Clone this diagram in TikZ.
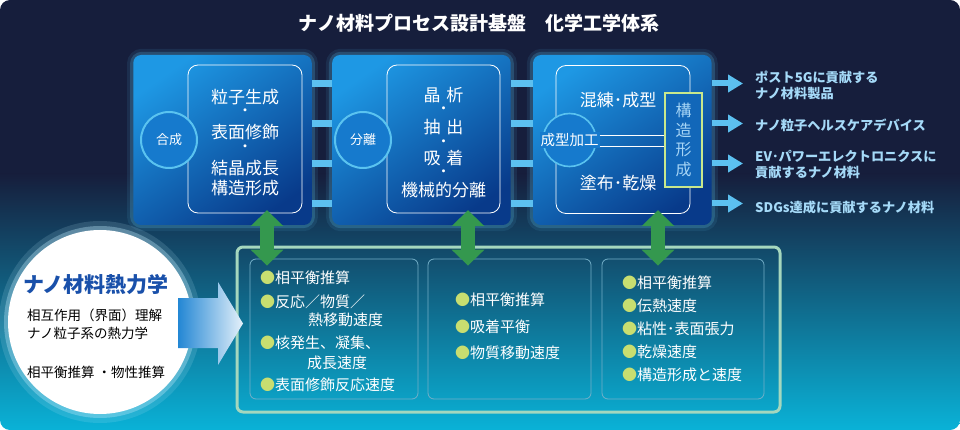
\documentclass[tikz,border=0pt]{standalone}
\usepackage{fontspec}
\setmainfont{Noto Sans CJK JP}
\usetikzlibrary{
  arrows.meta,
  backgrounds,
  calc,
  positioning
}
\definecolor{navy}{RGB}{22,30,60}
\definecolor{deepteal}{RGB}{8,82,122}
\definecolor{brightcyan}{RGB}{10,178,215}
\definecolor{boxlight}{RGB}{30,152,228}
\definecolor{boxdark}{RGB}{8,58,138}
\definecolor{boxmid}{RGB}{22,122,205}
\definecolor{barblue}{RGB}{92,192,240}
\definecolor{ringcyan}{RGB}{90,195,240}
\definecolor{outtext}{RGB}{165,218,248}
\definecolor{framegreen}{RGB}{165,215,190}
\definecolor{innerline}{RGB}{115,175,200}
\definecolor{arrowgreen}{RGB}{52,152,78}
\definecolor{dotgreen}{RGB}{200,222,112}
\definecolor{thermoblue}{RGB}{25,80,170}
\definecolor{structgreen}{RGB}{200,232,140}
\definecolor{structtext}{RGB}{165,212,245}
\definecolor{arrowblue}{RGB}{35,135,212}
\tikzset{
  stage/.style={
    top color=boxlight,
    bottom color=boxdark,
    shading angle=35,
    rounded corners=8pt,
    minimum width=178.5pt,
    minimum height=170pt
  },
  inner box/.style={draw=white,line width=.8pt,rounded corners=10pt,minimum height=148pt},
  ring/.style={
    circle,
    draw=ringcyan,
    line width=2pt,
    fill=boxmid,
    minimum size=56pt,
    inner sep=0pt,
    text=white,
    font=\fontsize{13}{14}\selectfont
  },
  ring label/.style={fill=boxmid,inner sep=1pt,text=white,font=\fontsize{14.5}{15}\selectfont},
  struct box/.style={
    draw=structgreen,
    line width=1.5pt,
    fill=boxmid!70!boxdark,
    minimum width=37pt,
    minimum height=94pt,
    align=center,
    inner sep=0pt,
    text=structtext,
    font=\fontsize{16}{19.5}\selectfont
  },
  stagetext/.style={inner sep=0pt,text=white,font=\fontsize{17}{18}\selectfont},
  stagedot/.style={inner sep=0pt,text=white,font=\fontsize{11}{11}\selectfont\bfseries},
  link/.style={draw=white,line width=.8pt},
  bar/.style={draw=barblue,line width=6.5pt},
  out flow/.style={draw=barblue,line width=6pt,-{Triangle[length=15pt,width=17pt]}},
  out label/.style={
    anchor=west,
    align=left,
    inner sep=0pt,
    text=outtext,
    font=\fontsize{13.2}{16}\selectfont\bfseries
  },
  panel/.style={draw=framegreen,line width=3pt,rounded corners=6pt,minimum width=543pt,minimum height=165pt},
  cell/.style={draw=innerline,line width=.8pt,rounded corners=6pt,minimum height=140pt},
  cellline/.style={anchor=west,inner sep=0pt,text=white,font=\fontsize{15}{16}\selectfont},
  dblarrow/.style={
    draw=arrowgreen,
    line width=14pt,
    {Triangle[length=16pt,width=32pt]}-{Triangle[length=16pt,width=32pt]}
  },
  thermo/.style={circle,fill=white,minimum size=184pt,inner sep=0pt},
  thermo line/.style={anchor=west,inner sep=0pt,text=black,font=\fontsize{13.5}{15}\selectfont},
  stage glow/.style={draw=ringcyan,rounded corners=9pt}
}
\newcommand{\dotitem}{\textcolor{dotgreen}{●}}

\begin{document}
\begin{tikzpicture}[x=1pt,y=-1pt]
  \useasboundingbox (0,0) rectangle (960,430);

  \node[font=\fontsize{19}{20}\selectfont\bfseries,text=white] (title) at (479,23)
    {ナノ材料プロセス設計基盤　化学工学体系};

  \node[stage] (box1) at (222.5,140) {};
  \node[stage,right=20pt of box1] (box2) {};
  \node[stage,right=22pt of box2] (box3) {};

  \node[inner box,minimum width=114pt] (in1) at (245,139) {};
  \node[inner box,minimum width=113pt] (in2) at (443.5,139) {};
  \node[inner box,minimum width=134pt] (in3) at (623,139.5) {};

  \node[ring] (syn) at (169,140) {合成};
  \node[ring] (sep) at (363,140) {分離};
  \node[ring,minimum size=53pt,line width=1.6pt] (fabring) at (569.5,140) {};
  \node[ring label] (fab) at (569.5,140) {成型加工};

  \foreach \txt/\yy [count=\i] in {粒子生成/97,表面修飾/132,結晶成長/168,構造形成/188}
    \node[stagetext] (s\i) at (245,\yy) {\txt};
  \foreach \yy [count=\i] in {112,148}
    \node[stagedot] (sd\i) at (245,\yy) {・};
  \foreach \txt/\yy [count=\i] in {晶\hspace{6pt}析/95,抽\hspace{6pt}出/127,吸\hspace{6pt}着/158,機械的分離/190}
    \node[stagetext] (p\i) at (443.5,\yy) {\txt};
  \foreach \yy [count=\i] in {110,143,173}
    \node[stagedot] (pd\i) at (443.5,\yy) {・};
  \node[stagetext] (f1) at (618,100) {混練･成型};
  \node[stagetext] (f2) at (618,183) {塗布･乾燥};

  \node[struct box] (struct) at (683.5,140) {構\\造\\形\\成};
  \draw[link] (fab.east |- 0,135) -- (struct.west |- 0,135);
  \draw[link] (fab.east |- 0,146) -- (struct.west |- 0,146);

  \foreach \yy in {83.5,123.5,163.5,203.5} {
    \draw[bar] (box1.east |- 0,\yy) -- (box2.west |- 0,\yy);
    \draw[bar] (box2.east |- 0,\yy) -- (box3.west |- 0,\yy);
  }

  \node[out label] (out1) at (755,85) {ポスト5Gに貢献する\\ナノ材料製品};
  \node[out label] (out2) at (755,125) {ナノ粒子ヘルスケアデバイス};
  \node[out label] (out3) at (755,165) {EV･パワーエレクトロニクスに\\貢献するナノ材料};
  \node[out label] (out4) at (755,207) {SDGs達成に貢献するナノ材料};
  \foreach \i/\yy in {1/83.5,2/123.5,3/163.5,4/203.5}
    \draw[out flow] (box3.east |- 0,\yy) -- ($(out\i.west |- 0,\yy)+(-12,0)$);

  \node[panel] (panel) at (508.5,329.5) {};
  \node[cell,minimum width=168pt] (bA) at (334,329) {};
  \node[cell,minimum width=163pt] (bB) at (509.5,329) {};
  \node[cell,minimum width=162pt] (bC) at (683,329) {};

  \foreach \txt/\yy [count=\i] in {{\dotitem 相平衡推算}/278,{\dotitem 反応／物質／}/302,
      {\hspace*{48pt}熱移動速度}/320,{\dotitem 核発生、凝集、}/343,
      {\hspace*{47pt}成長速度}/363,{\dotitem 表面修飾反応速度}/385}
    \node[cellline] (a\i) at (260,\yy) {\txt};
  \foreach \txt/\yy [count=\i] in {{\dotitem 相平衡推算}/300,{\dotitem 吸着平衡}/327,{\dotitem 物質移動速度}/353}
    \node[cellline] (b\i) at (455,\yy) {\txt};
  \foreach \txt/\yy [count=\i] in {{\dotitem 相平衡推算}/283,{\dotitem 伝熱速度}/306,{\dotitem 粘性･表面張力}/329,
      {\dotitem 乾燥速度}/352,{\dotitem 構造形成と速度}/375}
    \node[cellline] (c\i) at (622,\yy) {\txt};

  \foreach \hi/\lo/\xx in {box1/bA/267,box2/bB/468,box3/bC/658}
    \draw[dblarrow] ($(\hi.south -| \xx,0)+(0,-15)$) -- ($(\lo.north -| \xx,0)+(0,7)$);

  \node[thermo] (thermo) at (100,322) {};
  \node[font=\fontsize{21}{22}\selectfont\bfseries,text=thermoblue] (thermohead) at (96,285) {ナノ材料熱力学};
  \node[thermo line] (th1) at (27,315) {相互作用（界面）理解};
  \node[thermo line] (th2) at (27,333) {ナノ粒子系の熱力学};
  \node[thermo line] (th3) at (27,372) {相平衡推算 ・物性推算};

  \shade[left color=arrowblue,right color=arrowblue!12!white]
    (178,298) -- (218,298) -- (218,282) -- (243,323.5) -- (218,365) -- (218,348) -- (178,348) -- cycle;

  \begin{scope}[on background layer]
    \begin{scope}
      \clip[rounded corners=10pt] (0,0) rectangle (960,430);
      \fill[navy] (0,0) rectangle (960,175);
      \shade[top color=navy,middle color=deepteal,bottom color=brightcyan] (0,174) rectangle (960,430);
    \end{scope}
    \foreach \b in {box1,box2,box3} {
      \draw[stage glow,line width=12pt,opacity=.10] (\b.south west) rectangle (\b.north east);
      \draw[stage glow,line width=6pt,opacity=.22] (\b.south west) rectangle (\b.north east);
    }
    \fill[cyan!25!white,opacity=.15] (thermo.center) circle (101pt);
    \fill[cyan!25!white,opacity=.35] (thermo.center) circle (96pt);
  \end{scope}
\end{tikzpicture}
\end{document}
